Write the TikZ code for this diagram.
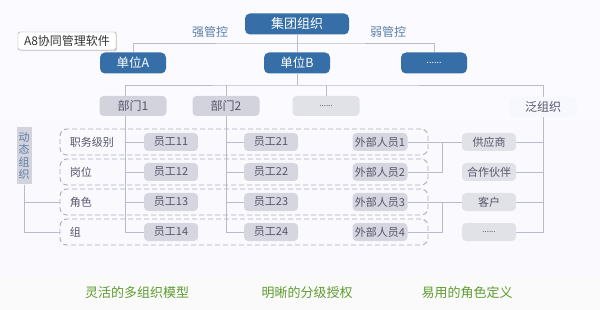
\documentclass[tikz,border=0pt]{standalone}
\usepackage{fontspec}
\setmainfont{Noto Sans CJK SC}
\usetikzlibrary{positioning,shadows}
\definecolor{unitblue}{HTML}{366FA7}
\definecolor{deptgray}{HTML}{D3D3DE}
\definecolor{staffgray}{HTML}{D6D6E0}
\definecolor{palegray}{HTML}{E1E1E8}
\definecolor{textgray}{HTML}{55556A}
\definecolor{linegray}{HTML}{B7BBCA}
\definecolor{dashgray}{HTML}{A9ACBA}
\definecolor{ctrlblue}{HTML}{5A7EA6}
\definecolor{leafgreen}{HTML}{5E9C2F}
\pgfdeclarelayer{backdrop}
\pgfdeclarelayer{wires}
\pgfsetlayers{backdrop,wires,main}
\begin{document}
\begin{tikzpicture}[
x=1pt, y=-1pt,
node distance=30pt,
every node/.style={font=\fontsize{11}{12}\selectfont, inner sep=0pt, text=textgray},
unitbox/.style={fill=unitblue, text=white, rounded corners=5pt, minimum width=66pt, minimum height=21pt, font=\fontsize{12.5}{14}\selectfont},
deptbox/.style={fill=deptgray, rounded corners=4pt, minimum width=67pt, minimum height=20pt, font=\fontsize{12}{14}\selectfont},
staffbox/.style={fill=staffgray, rounded corners=4pt, minimum width=54pt, minimum height=18pt},
sidebox/.style={fill=palegray, rounded corners=4pt, minimum width=54pt, minimum height=18pt},
rowbox/.style={draw=dashgray, line width=0.9pt, dash pattern=on 5pt off 3pt, rounded corners=7pt, minimum width=368pt, minimum height=26pt},
rowlabel/.style={anchor=west, text=textgray},
ctrllabel/.style={text=ctrlblue, font=\fontsize{12}{13}\selectfont},
slogan/.style={text=leafgreen, font=\fontsize{13}{14}\selectfont},
link/.style={draw=linegray, line width=0.8pt}
]
\useasboundingbox (0,0) rectangle (600,310);
\begin{pgfonlayer}{backdrop}
\shade[top color=black!8!blue!2!white, middle color=black!2!white, bottom color=black!12!blue!2!white] (0,0) rectangle (600,275);
\fill[black!2!white] (0,275) rectangle (600,310);
\end{pgfonlayer}
% top levels
\node (group) [unitbox, minimum width=104pt, font=\fontsize{13}{14}\selectfont] at (297,24) {集团组织};
\node (unitA) [unitbox] at (133,63) {单位A};
\node (unitB) [unitbox] at (297,63) {单位B};
\node (unitX) [unitbox, font=\fontsize{9}{10}\selectfont] at (434,63) {......};
\node (strong) [ctrllabel] at (210,32) {强管控};
\node (weak) [ctrllabel] at (388,32) {弱管控};
\node (brand) [draw=black!40, fill=white, rounded corners=1.5pt, minimum width=98pt, minimum height=18pt, text=black!80,
  font=\fontsize{12}{13}\selectfont,
  drop shadow={shadow xshift=1.2pt, shadow yshift=-1.2pt, opacity=0.25}] at (67,41) {A8协同管理软件};
% departments
\node (dept1) [deptbox] at (133,106) {部门1};
\node (dept2) [deptbox] at (226,106) {部门2};
\node (deptX) [deptbox, fill=palegray, font=\fontsize{8}{10}\selectfont] at (326,106) {......};
\node (pan) [deptbox, fill=black!13!blue!3!white] at (543,107) {泛组织};
% dynamic rows
\node (rowA) [rowbox] at (244,142) {};
\node (rowB) [rowbox, below of=rowA] {};
\node (rowC) [rowbox, below of=rowB] {};
\node (rowD) [rowbox, below of=rowC] {};
\node (rank) [rowlabel, right=10pt of rowA.west] {职务级别};
\node (post) [rowlabel, right=10pt of rowB.west] {岗位};
\node (role) [rowlabel, right=10pt of rowC.west] {角色};
\node (team) [rowlabel, right=10pt of rowD.west] {组};
\node (dyn) [fill=deptgray, minimum width=15pt, minimum height=57pt, align=center, text=ctrlblue,
  font=\fontsize{11}{12.5}\selectfont] at (24,156) {动\\态\\组\\织};
% staff
\node (staff11) [staffbox] at (171,142) {员工11};
\node (staff12) [staffbox, below of=staff11] {员工12};
\node (staff13) [staffbox, below of=staff12] {员工13};
\node (staff14) [staffbox, below of=staff13] {员工14};
\node (staff21) [staffbox, right of=staff11, node distance=100pt] {员工21};
\node (staff22) [staffbox, below of=staff21] {员工22};
\node (staff23) [staffbox, below of=staff22] {员工23};
\node (staff24) [staffbox, below of=staff23] {员工24};
\node (ext1) [staffbox, minimum width=55pt, right of=staff21, node distance=109pt] {外部人员1};
\node (ext2) [staffbox, minimum width=55pt, below of=ext1] {外部人员2};
\node (ext3) [staffbox, minimum width=55pt, below of=ext2] {外部人员3};
\node (ext4) [staffbox, minimum width=55pt, below of=ext3] {外部人员4};
\node (supplier) [sidebox, right of=ext1, node distance=109pt] {供应商};
\node (partner) [sidebox, below of=supplier] {合作伙伴};
\node (client) [sidebox, below of=partner] {客户};
\node (more) [sidebox, below of=client, font=\fontsize{8}{10}\selectfont] {......};
% bottom band
\node (flex) [slogan] at (137,293) {灵活的多组织模型};
\node (clear) [slogan] at (307,293) {明晰的分级授权};
\node (easy) [slogan] at (467,293) {易用的角色定义};
% connectors
\coordinate (busTop) at (297,43);
\coordinate (busMid) at (297,85);
\coordinate (joinA) at ([xshift=35pt]ext1.east);
\coordinate (joinB) at ([xshift=35pt]ext3.east);
\begin{pgfonlayer}{wires}
\draw[link] (group) -- (unitB);
\draw[link] (unitA.north) |- (busTop) -| (unitX.north);
\draw[link] (unitB) -- (busMid);
\draw[link] ([xshift=-8pt]dept1.north) |- (busMid) -| (pan.north);
\draw[link] (dept2.north) -- (dept2.north |- busMid);
\draw[link] (deptX.north) -- (deptX.north |- busMid);
\foreach \i in {1,...,4} {
  \draw[link] ([xshift=-8pt]dept1.south) |- (staff1\i.west);
  \draw[link] (dept2.south) |- (staff2\i.west);
}
\draw[link] (ext1) -- (supplier);
\draw[link] (ext2.east) -| (joinA);
\draw[link] (ext3) -- (client);
\draw[link] (ext4.east) -| (joinB);
\foreach \n in {supplier,partner,client,more}
  \draw[link] (pan.south) |- (\n.east);
\draw[link] (dyn.south) |- (rowC.west);
\draw[link] (dyn.south) |- (rowD.west);
\end{pgfonlayer}
\end{tikzpicture}
\end{document}
